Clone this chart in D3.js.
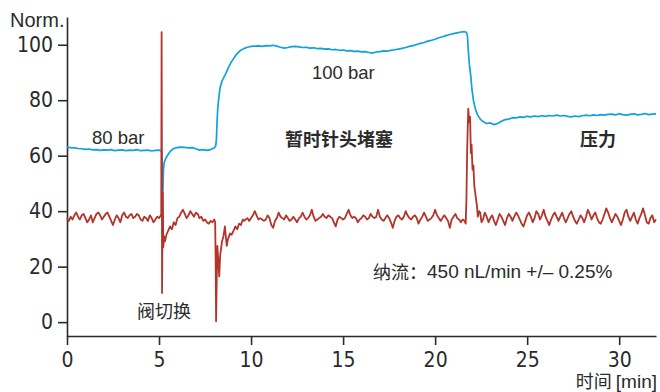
<!DOCTYPE html>
<html>
<head>
<meta charset="utf-8">
<script src="https://cdn.jsdelivr.net/npm/d3@7/dist/d3.min.js"></script>
<style>
  html, body { margin: 0; padding: 0; background: #fff; }
  svg { display: block; }
</style>
</head>
<body>
<svg id="chart" width="660" height="392"></svg>
<script>
// ---- axis ticks ----
const xTicks = [0, 5, 10, 15, 20, 25, 30];
const yTicks = [0, 20, 40, 60, 80, 100];

// ---- pressure trace (normalised), blue ----
// quiet stretches are sampled on a regular time grid; transitions as [min, value] pairs
const pressureQuietA = [63.1, 62.9, 62.8, 62.6, 62.5, 62.3, 62.4, 62.1, 62.2, 61.9,
  62.1, 62.0, 62.2, 61.8, 62.0, 62.1, 61.8, 62.0, 61.9, 62.2,
  61.8, 61.9, 62.0, 61.7, 61.9, 62.0];                        // 0.0 .. 5.0, step 0.2
const pressureValve = [[5.1, 61.8], [5.15, 61.5], [5.18, 52], [5.21, 46.5], [5.24, 55],
  [5.28, 57.5], [5.35, 58.8], [5.45, 60], [5.6, 61.5], [5.75, 62.4], [5.9, 62.8],
  [6.05, 63], [6.2, 63.1]];
const pressureQuietB = [63.0, 62.8, 62.9, 62.5, 62.0, 62.2, 61.9, 62.2, 62.8]; // 6.4 .. 8.0
const pressureRise = [[8.08, 63.5], [8.12, 66], [8.15, 72], [8.19, 77], [8.25, 81],
  [8.32, 84.5], [8.4, 86.5], [8.5, 88], [8.62, 89.5], [8.75, 91.5], [8.9, 93.5],
  [9.05, 95], [9.2, 96.5], [9.4, 97.8], [9.6, 98.6], [9.8, 99.1], [10.0, 99.4]];
const pressureQuietC = [99.5, 99.6, 99.4, 99.7, 99.6, 99.8, 99.5, 99.1, 98.8, 99.0,
  99.3, 99.4, 99.2, 99.0, 99.1, 98.8, 98.9, 98.6, 98.7, 98.4,
  98.5, 98.2, 98.3, 98.0, 98.1, 97.8, 97.9, 97.6, 97.7, 97.4,
  97.5, 97.2, 97.0, 97.4, 97.5, 97.8, 97.7, 98.0, 98.2, 98.4,
  98.7, 99.0, 99.4, 99.7, 100.1, 100.5, 100.8, 101.3, 101.6, 102.0,
  102.5, 102.9, 103.3, 103.7, 104.0, 104.3, 104.6, 104.7];      // 10.2 .. 21.6
const pressureDrop = [[21.7, 104.5], [21.76, 103], [21.8, 98], [21.86, 93], [21.94, 88.5],
  [22.0, 84], [22.08, 80], [22.18, 77], [22.3, 74.8], [22.45, 73.2], [22.6, 72.3],
  [22.8, 71.6], [23.0, 71.8], [23.2, 71.2], [23.4, 71.6]];
const pressureQuietD = [72.4, 73.0, 73.2, 73.7, 73.6, 74.0, 73.8, 74.2, 74.0, 74.3,
  74.1, 74.4, 74.2, 74.5, 74.3, 74.6, 74.3, 74.5, 74.2, 74.0,
  74.3, 74.1, 74.4, 74.6, 74.4, 74.7, 74.5, 74.8, 74.6, 74.9,
  75.0, 74.7, 75.1, 74.8, 74.6, 74.9, 75.1, 74.7, 74.9, 75.2,
  74.8, 75.0, 75.1];                                           // 23.6 .. 32.0

// ---- nano flow trace (normalised), red ----
const flowQuietA = [37.5, 36.5, 38, 37, 38.5, 39.5, 38, 37, 38.5, 39,
  37.5, 36, 37, 38.5, 36, 37.5, 39, 39.5, 38.5, 37,
  38, 39, 39.5, 38, 36.5, 35, 37, 38.5, 37.5, 36,
  38.5, 39.5, 38, 37.5, 38.5, 39, 37.5, 38, 39, 38.5,
  37, 36.5, 38, 37.5, 36.5, 38.5, 37.5, 36, 37, 38,
  37.5, 38.5];                                                 // 0.0 .. 5.1, step 0.1
const flowValve = [[5.12, 39], [5.14, 104.5], [5.155, 60], [5.165, 10.5], [5.19, 38],
  [5.21, 46.5], [5.23, 27], [5.27, 31], [5.32, 29], [5.4, 31.5], [5.5, 33], [5.6, 34.5],
  [5.7, 33.5], [5.8, 36], [5.9, 35], [6.0, 37.5]];
const flowQuietB = [38, 39.5, 40.5, 39, 37.5, 38.5, 40, 39, 38, 39.5,
  39, 37.5, 38, 36.5, 37, 36, 35.5, 36.5, 36];                 // 6.1 .. 7.9
const flowClog = [[8.0, 37], [8.05, 36], [8.08, 20], [8.1, 0.3], [8.14, 18], [8.17, 27.5],
  [8.22, 22], [8.27, 16.5], [8.32, 24], [8.36, 26], [8.42, 29], [8.5, 31], [8.58, 34.5],
  [8.64, 30], [8.68, 27.5], [8.75, 30], [8.86, 32], [8.95, 31.5], [9.05, 33], [9.15, 34.5],
  [9.25, 33.5], [9.35, 35.5], [9.45, 35], [9.55, 37], [9.62, 36.5]];
const flowQuietC = [37, 37.5, 36.5, 37.5, 38.5, 40, 38.5, 37, 37.5, 37,
  36.5, 37, 38.5, 37.5, 35, 34, 36.5, 37.5, 39.5, 38,
  37.5, 37, 38.5, 37.5, 36.5, 37, 38, 37, 36, 37.5,
  38, 39.5, 38, 37, 37.5, 38.5, 40.5, 38, 36.5, 37,
  37.5, 38, 39, 38, 37.5, 38.5, 38, 37.5, 36, 34.5,
  37, 38, 37.5, 37, 37.5, 39, 40.5, 38.5, 37.5, 38,
  37.5, 36, 37, 37.5, 38.5, 38, 37, 37.5, 39, 38,
  37.5, 38, 40.5, 38, 37, 36.5, 37.5, 38.5, 37.5, 36,
  34, 36.5, 38, 38.5, 37.5, 37, 38, 40, 38.5, 37.5,
  37, 38, 38.5, 37.5, 35.5, 37, 38, 39.5, 38, 36.5,
  37, 37.5, 38.5, 40.5, 38.5, 37.5, 36.5, 37.5, 38.5, 37.5,
  36.5, 34, 37, 38, 39, 37.5, 37, 36, 37, 36.5];               // 9.7 .. 21.6
const flowRelease = [[21.66, 35.5], [21.7, 44], [21.74, 62], [21.8, 77], [21.85, 72],
  [21.9, 74], [21.94, 61], [21.98, 64], [22.03, 55], [22.08, 56.5], [22.13, 49],
  [22.2, 45.5], [22.27, 42], [22.32, 38], [22.38, 40], [22.45, 39.5], [22.52, 36]];
const flowQuietD = [37, 39.5, 38, 36, 37.5, 38.5, 36.5, 35, 37, 39,
  38, 36.5, 35, 37.5, 39, 38, 36.5, 38, 39.5, 38.5,
  37, 35.5, 34.5, 36.5, 38.5, 39.5, 38, 36, 37.5, 40,
  39, 37, 38.5, 40.5, 38, 36.5, 35, 37, 38.5, 39.5,
  38, 36.5, 38, 39.5, 37.5, 36, 37.5, 39, 40, 38,
  36.5, 35.5, 37, 38.5, 37.5, 36, 38, 40.5, 39, 37,
  38.5, 39.5, 37.5, 36, 35.5, 37, 39, 41, 39.5, 37.5,
  36, 37.5, 39, 38, 36.5, 35, 37, 39.5, 40.5, 38,
  36.5, 38, 39.5, 37, 35.5, 37.5, 39, 41, 38.5, 36,
  35.5, 37.5, 38.5, 36, 37];                                   // 22.6 .. 32.0

// place evenly sampled values on the time axis
function onGrid(start, step, values) {
  return values.map((v, i) => [+(start + i * step).toFixed(3), v]);
}

const pressure = [
  ...onGrid(0, 0.2, pressureQuietA), ...pressureValve,
  ...onGrid(6.4, 0.2, pressureQuietB), ...pressureRise,
  ...onGrid(10.2, 0.2, pressureQuietC), ...pressureDrop,
  ...onGrid(23.6, 0.2, pressureQuietD)
];
const flow = [
  ...onGrid(0, 0.1, flowQuietA), ...flowValve,
  ...onGrid(6.1, 0.1, flowQuietB), ...flowClog,
  ...onGrid(9.7, 0.1, flowQuietC), ...flowRelease,
  ...onGrid(22.6, 0.1, flowQuietD)
];

const FONT_NUM = '"Liberation Sans Narrow", "DejaVu Sans Condensed", sans-serif';
const FONT_LAT = '"Liberation Sans", Arial, sans-serif';
const FONT_CJK = '"Noto Sans CJK SC", "Noto Sans CJK JP", sans-serif';
const INK = '#2b2b2b';

const svg = d3.select('#chart');
const x = d3.scaleLinear().domain([0, 32]).range([67, 656]);
const y = d3.scaleLinear().domain([-5, 110]).range([336, 17]);

// axes
const yAxis = svg.append('g')
  .attr('transform', `translate(${x(0)},0)`)
  .call(d3.axisLeft(y).tickValues(yTicks).tickSize(9).tickSizeOuter(0).tickPadding(5));
const xAxis = svg.append('g')
  .attr('transform', `translate(0,${y(-5)})`)
  .call(d3.axisBottom(x).tickValues(xTicks).tickSize(9).tickSizeOuter(0).tickPadding(7));

[yAxis, xAxis].forEach(g => {
  g.selectAll('path.domain').attr('stroke', INK).attr('stroke-width', 1.6);
  g.selectAll('.tick line').attr('stroke', INK).attr('stroke-width', 1.6);
  g.selectAll('.tick text').attr('fill', INK)
    .style('font-family', FONT_NUM).style('font-size', '21px');
});

// traces
const line = d3.line().x(d => x(d[0])).y(d => y(d[1]));
svg.append('path').datum(pressure)
  .attr('d', line).attr('fill', 'none')
  .attr('stroke', '#12a0de').attr('stroke-width', 1.7).attr('stroke-linejoin', 'round');
svg.append('path').datum(flow)
  .attr('d', line).attr('fill', 'none')
  .attr('stroke', '#b3342b').attr('stroke-width', 1.8).attr('stroke-linejoin', 'round');

// labels
function label(txt, px, py, opts = {}) {
  return svg.append('text')
    .attr('x', px).attr('y', py)
    .attr('fill', INK)
    .attr('text-anchor', opts.anchor || 'start')
    .attr('dominant-baseline', opts.baseline || 'alphabetic')
    .style('font-family', opts.font || FONT_LAT)
    .style('font-size', (opts.size || 19) + 'px')
    .style('font-weight', opts.weight || 'normal')
    .text(txt);
}

label('Norm.', 10, 27, { size: 20 });
label('80 bar', 92, 144, { size: 18.5 });
label('100 bar', 312, 79, { size: 18.5 });
label('暂时针头堵塞', 285, 138, { font: FONT_CJK, size: 18, weight: 'bold', baseline: 'central' });
label('压力', 580, 138, { font: FONT_CJK, size: 18, weight: 'bold', baseline: 'central' });
label('阀切换', 137, 310, { font: FONT_CJK, size: 18, baseline: 'central' });

const flowNote = svg.append('text')
  .attr('x', 373).attr('y', 271).attr('dominant-baseline', 'central').attr('fill', INK);
flowNote.append('tspan').style('font-family', FONT_CJK).style('font-size', '18px').text('纳流：');
flowNote.append('tspan').style('font-family', FONT_LAT).style('font-size', '19px')
  .text('450 nL/min +/– 0.25%');

const xTitle = svg.append('text')
  .attr('x', 657).attr('y', 388).attr('text-anchor', 'end').attr('fill', INK);
xTitle.append('tspan').style('font-family', FONT_CJK).style('font-size', '18px').text('时间 ');
xTitle.append('tspan').style('font-family', FONT_LAT).style('font-size', '19px').text('[min]');
</script>
</body>
</html>
